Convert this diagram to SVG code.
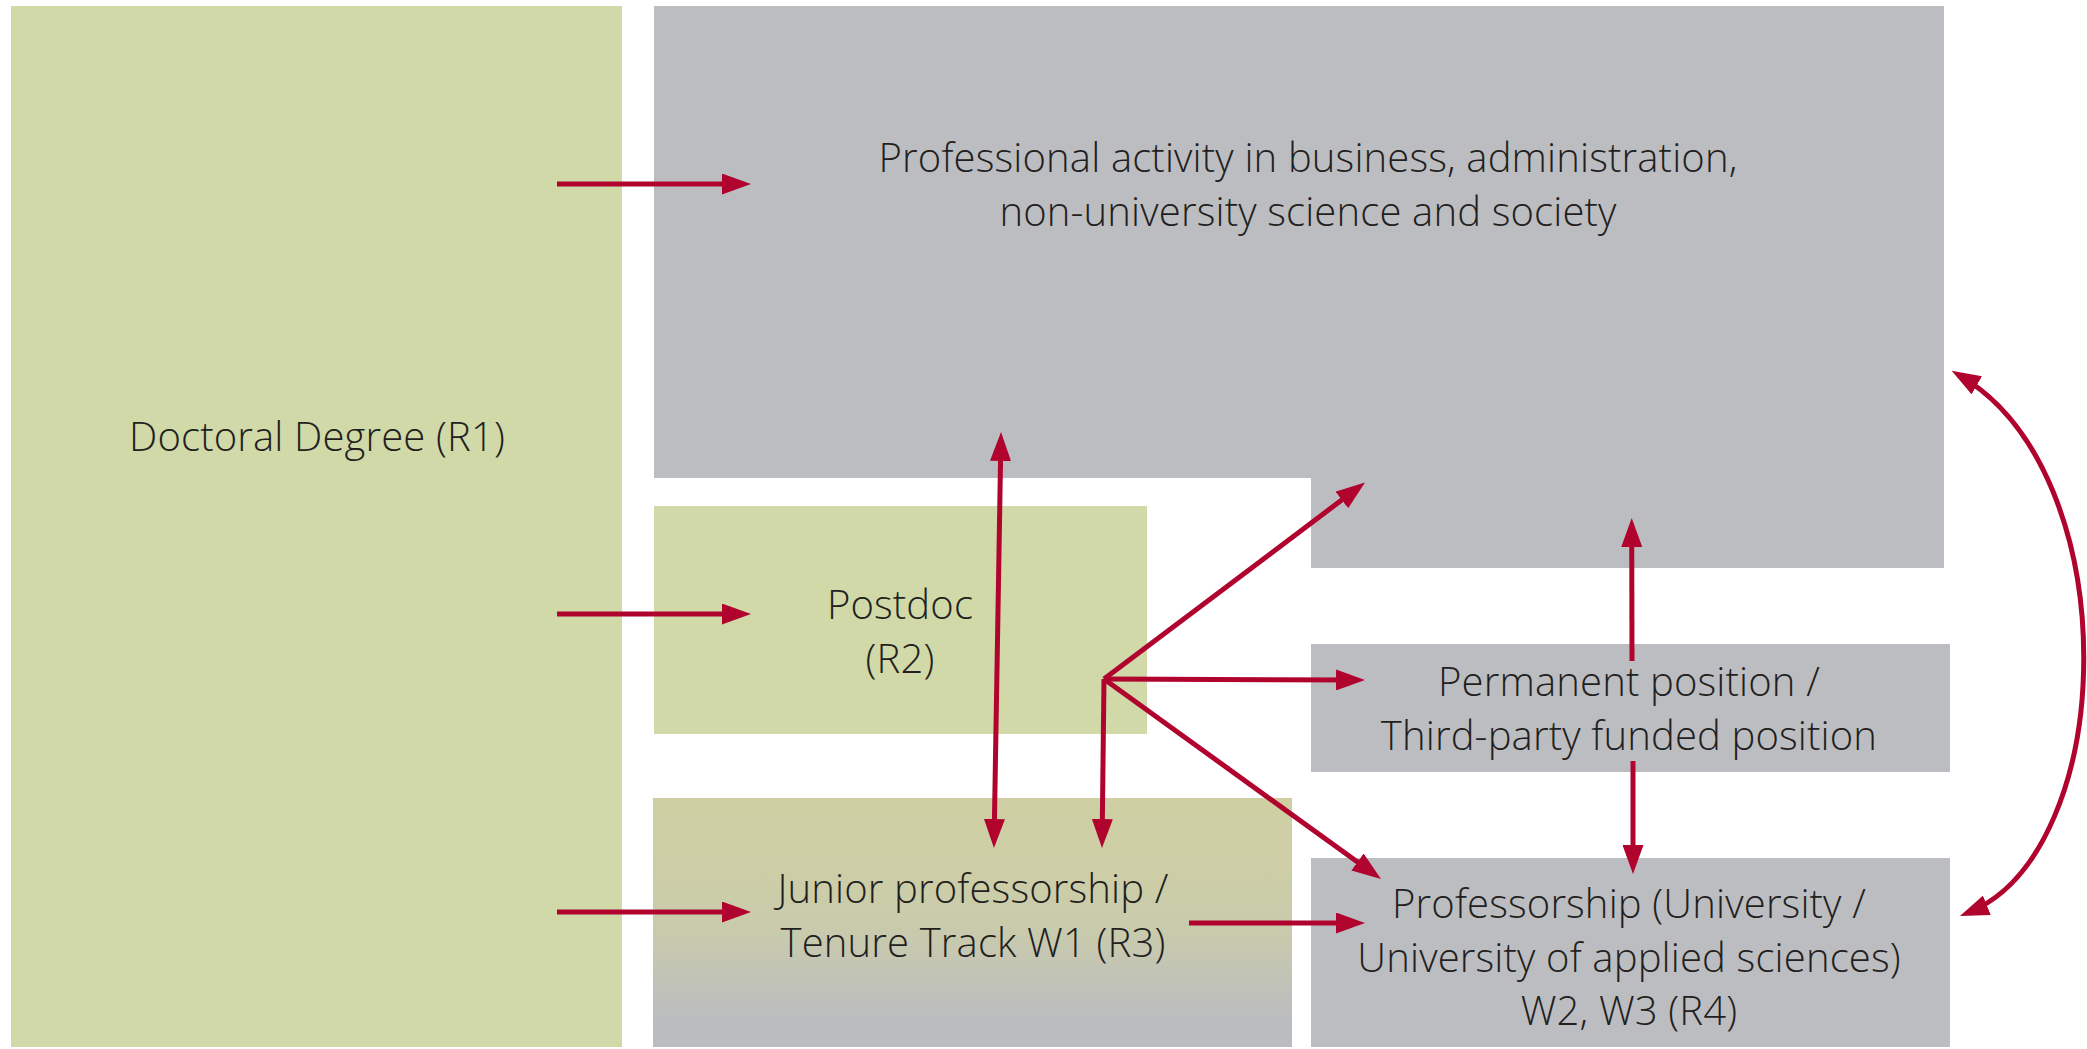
<svg xmlns="http://www.w3.org/2000/svg" width="2087" height="1049" viewBox="0 0 2087 1049">
  <style>
    .green { fill: #d0d9a7; }
    .gray { fill: #bcbdc1; }
    .lbl { font-family: "Open Sans", "Noto Sans", "Liberation Sans", sans-serif; font-weight: 300; font-size: 40px; letter-spacing: 0.15px; fill: #231f20; text-anchor: middle; }
    .conn { fill: none; stroke: #b0042f; stroke-width: 5; }
  </style>
  <defs>
    <marker id="ah" viewBox="0 0 29 21" refX="21" refY="10.5" markerWidth="29" markerHeight="21" markerUnits="userSpaceOnUse" orient="auto-start-reverse">
      <path d="M0,0 L29,10.5 L0,21 z" fill="#b0042f"/>
    </marker>
    <linearGradient id="jgrad" x1="0" y1="0" x2="0" y2="1">
      <stop offset="0" stop-color="#cfcfa3"/>
      <stop offset="0.3" stop-color="#cdcea6"/>
      <stop offset="0.55" stop-color="#c8caad"/>
      <stop offset="0.9" stop-color="#bbbcc0"/>
      <stop offset="1" stop-color="#bbbcc0"/>
    </linearGradient>
  </defs>

  <g id="doctoral">
    <rect class="green" x="11" y="6" width="611" height="1041"/>
    <text class="lbl" x="317" y="451">Doctoral Degree (R1)</text>
  </g>

  <g id="professional">
    <path class="gray" d="M654,6 H1944 V568 H1311 V478 H654 Z"/>
    <text class="lbl" x="1308" y="172">Professional activity in business, administration,</text>
    <text class="lbl" x="1308" y="226">non-university science and society</text>
  </g>

  <g id="postdoc">
    <rect class="green" x="654" y="506" width="493" height="228"/>
    <text class="lbl" x="900" y="619">Postdoc</text>
    <text class="lbl" x="900" y="673">(R2)</text>
  </g>

  <g id="junior">
    <rect x="653" y="798" width="639" height="249" fill="url(#jgrad)"/>
    <text class="lbl" x="973" y="903">Junior professorship /</text>
    <text class="lbl" x="973" y="957">Tenure Track W1 (R3)</text>
  </g>

  <g id="permanent">
    <rect class="gray" x="1311" y="644" width="639" height="128"/>
    <text class="lbl" x="1629" y="696">Permanent position /</text>
    <text class="lbl" x="1629" y="750">Third-party funded position</text>
  </g>

  <g id="professorship">
    <rect class="gray" x="1311" y="858" width="639" height="189"/>
    <text class="lbl" x="1629" y="918">Professorship (University /</text>
    <text class="lbl" x="1629" y="972">University of applied sciences)</text>
    <text class="lbl" x="1629" y="1025">W2, W3 (R4)</text>
  </g>

  <g id="connectors">
    <path class="conn" d="M557,184 H743" marker-end="url(#ah)"/>
    <path class="conn" d="M557,614 H743" marker-end="url(#ah)"/>
    <path class="conn" d="M557,912 H743" marker-end="url(#ah)"/>
    <path class="conn" d="M1000.9,440 L994.1,840" marker-start="url(#ah)" marker-end="url(#ah)"/>
    <path class="conn" d="M1104,679 L1358.6,487.3" marker-end="url(#ah)"/>
    <path class="conn" d="M1104,679 L1357,680" marker-end="url(#ah)"/>
    <path class="conn" d="M1104,679 L1102.1,840" marker-end="url(#ah)"/>
    <path class="conn" d="M1104,679 L1374.5,874.3" marker-end="url(#ah)"/>
    <path class="conn" d="M1189,923 H1357" marker-end="url(#ah)"/>
    <path class="conn" d="M1632,661 L1631.7,526" marker-end="url(#ah)"/>
    <path class="conn" d="M1633,761 V866" marker-end="url(#ah)"/>
    <path class="conn" d="M1958.6,374.8 C2128,472 2120,852 1967.4,913.1" marker-start="url(#ah)" marker-end="url(#ah)"/>
  </g>
</svg>
